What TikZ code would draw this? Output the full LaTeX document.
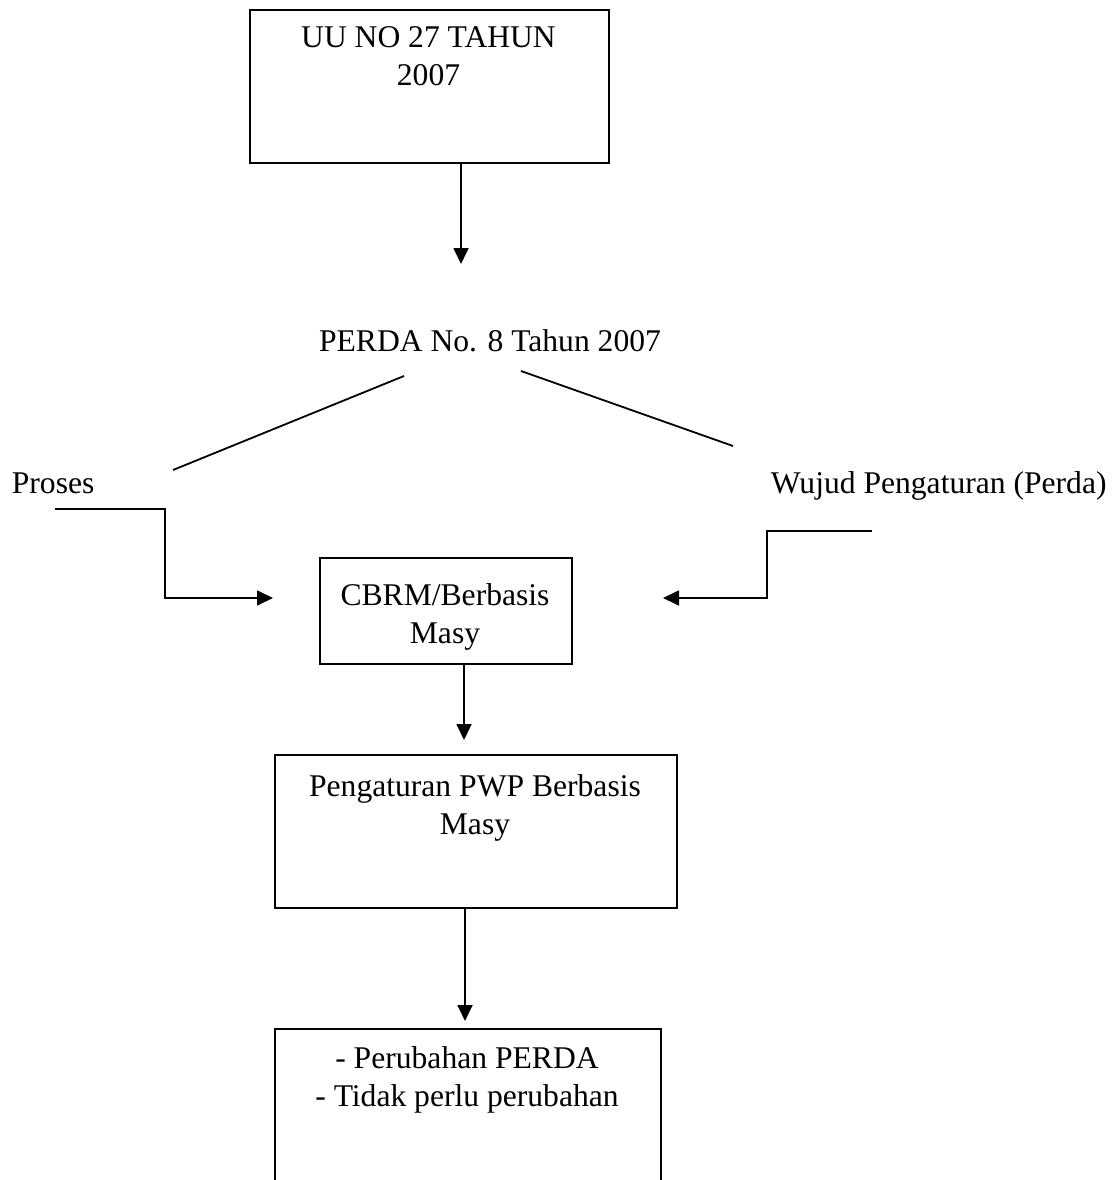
\documentclass[tikz,border=0pt]{standalone}
\usepackage{fontspec}
\setmainfont{Liberation Serif}
\usetikzlibrary{arrows.meta}
\begin{document}
\begin{tikzpicture}[x=1pt,y=-1pt, line width=1.8pt,
  boxshape/.style={draw, rectangle, inner sep=0pt, anchor=north west},
  lbl/.style={inner sep=0pt, align=center, font=\fontsize{31.6}{38}\selectfont},
  plain/.style={inner sep=0pt, font=\fontsize{31.6}{38}\selectfont},
  arr/.style={-{Triangle[length=16pt,width=15pt]}}]
\useasboundingbox (0,0) rectangle (1119,1180);
\clip (0,0) rectangle (1119,1180);
% boxes
\node[boxshape, minimum width=359pt, minimum height=153pt] (b1) at (249,9) {};
\node[lbl, anchor=north] (t1) at (428.5,25.6) {UU NO 27 TAHUN\\2007};
\node[boxshape, minimum width=252pt, minimum height=106pt] (b2) at (319,557) {};
\node[lbl, anchor=north] (t2) at (445,582.4) {CBRM/Berbasis\\Masy};
\node[boxshape, minimum width=402pt, minimum height=153pt] (b3) at (274,754) {};
\node[lbl, anchor=north] (t3) at (475,773.4) {Pengaturan PWP Berbasis\\Masy};
\node[boxshape, minimum width=386pt, minimum height=220pt] (b4) at (274,1028) {};
\node[lbl, anchor=north] (t4) at (467,1045.4) {- Perubahan PERDA\\- Tidak perlu perubahan};
% free texts
\node[plain, anchor=base] (perda) at (490,351) {PERDA No. 8 Tahun 2007};
\node[plain, anchor=base west] (proses) at (11,493) {Proses};
\node[plain, anchor=base west] (wujud) at (770,493) {Wujud Pengaturan (Perda)};
% coordinates
\coordinate (a1) at (461,264);
\coordinate (pl1) at (404,376);
\coordinate (pl2) at (173,470);
\coordinate (pr1) at (521,371);
\coordinate (pr2) at (733,446);
\coordinate (ps) at (55,509);
\coordinate (pk) at (165,598);
\coordinate (pe) at (273,598);
\coordinate (ws) at (872,531);
\coordinate (wk) at (767,598);
\coordinate (we) at (663,598);
\coordinate (a3) at (464,740);
\coordinate (a4) at (465,1021);
% connectors
\draw[arr] (b1.south -| a1) -- (a1);
\draw (pl1) -- (pl2);
\draw (pr1) -- (pr2);
\draw[arr] (ps) -| (pk) -- (pe);
\draw[arr] (ws) -| (wk) -- (we);
\draw[arr] (b2.south -| a3) -- (a3);
\draw[arr] (b3.south -| a4) -- (a4);
\end{tikzpicture}
\end{document}
